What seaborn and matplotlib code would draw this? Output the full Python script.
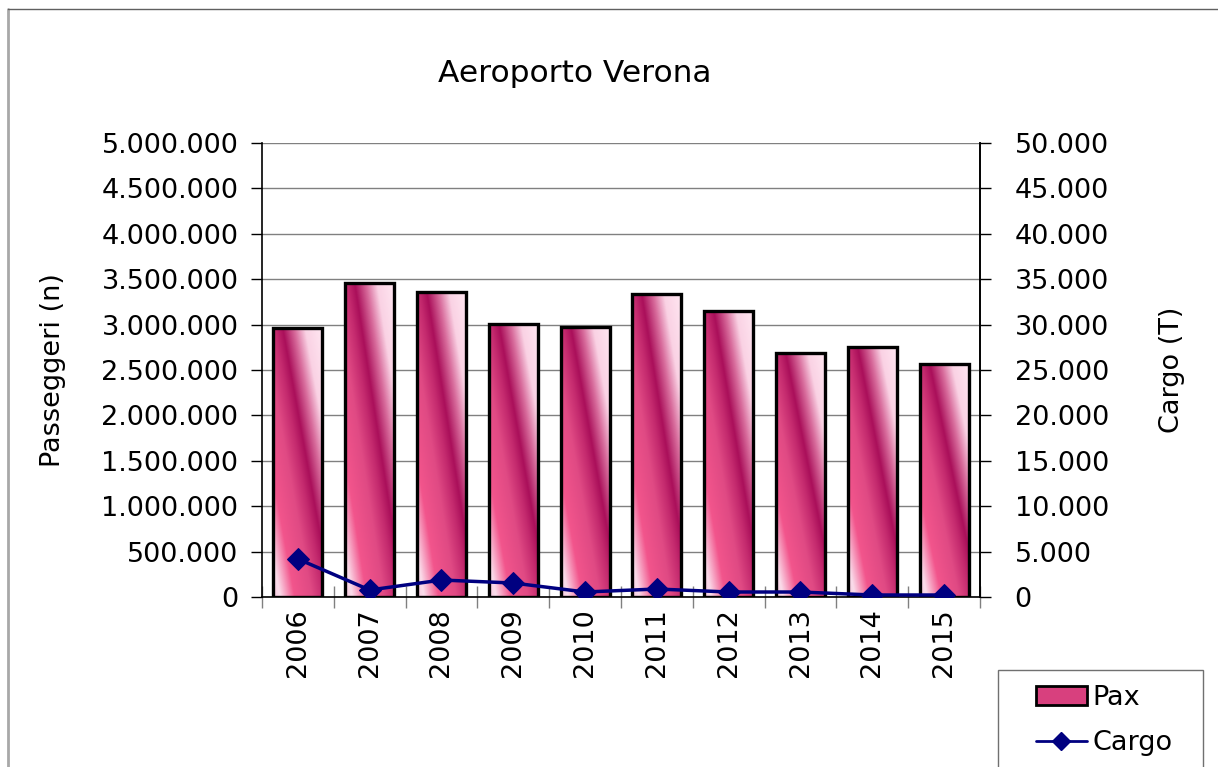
import matplotlib
matplotlib.use("Agg")
import matplotlib.pyplot as plt
import numpy as np
import pandas as pd
import seaborn as sns
from matplotlib.colors import LinearSegmentedColormap
from matplotlib.lines import Line2D
from matplotlib.patches import Patch, Rectangle
from matplotlib.ticker import FixedLocator, FuncFormatter

years = ["2006", "2007", "2008", "2009", "2010", "2011", "2012", "2013", "2014", "2015"]
pax = [2960000, 3458000, 3360000, 3007000, 2975000, 3337000, 3150000, 2687000, 2753000, 2566000]
cargo = [4190, 770, 1870, 1540, 550, 880, 550, 550, 220, 220]

FS = 19.5
NAVY = "#000080"


def ita(v, _pos=None):
    return f"{int(round(v)):,}".replace(",", ".")


# gradiente diagonale tipo Excel
bar_cmap = LinearSegmentedColormap.from_list("pax", [
    (0.00, "#F6C8DE"),
    (0.07, "#FADCEA"),
    (0.22, "#F2558C"),
    (0.40, "#E04A84"),
    (0.52, "#C42A6E"),
    (0.60, "#AA0F5A"),
    (0.72, "#D86C9C"),
    (0.83, "#FAD2E4"),
    (1.00, "#FFE6F1"),
])


def gradient_bars(ax):
    u, v = np.meshgrid(np.linspace(0, 1, 120), np.linspace(0, 1, 400))
    img = bar_cmap((u - v + 1) / 2)
    for p in ax.patches:
        x0, y0 = p.get_x(), p.get_y()
        w, h = p.get_width(), p.get_height()
        p.set_facecolor("none")
        p.set_zorder(3)
        im = ax.imshow(img, extent=(x0, x0 + w, y0, y0 + h), origin="upper",
                       aspect="auto", zorder=2.5, interpolation="bilinear")
        im.set_clip_path(p)


def main():
    sns.set_style("white")
    plt.rcParams["font.family"] = ["DejaVu Sans"]
    plt.rcParams["text.color"] = "black"
    plt.rcParams["axes.labelcolor"] = "black"
    plt.rcParams["xtick.labelcolor"] = "black"
    plt.rcParams["ytick.labelcolor"] = "black"

    df = pd.DataFrame({"Anno": years, "Pax": pax, "Cargo": cargo, "pos": np.arange(len(years))})

    fig = plt.figure(figsize=(12.18, 7.67), dpi=100)
    ax = fig.add_axes([262 / 1218, 1 - 597 / 767, 718 / 1218, 454 / 767])

    sns.barplot(data=df, x="Anno", y="Pax", ax=ax, width=0.68,
                edgecolor="black", linewidth=2.4)
    gradient_bars(ax)

    ax.set_xlim(-0.5, len(years) - 0.5)
    ax.set_ylim(0, 5000000)
    ax.set_yticks(np.arange(0, 5000001, 500000))
    ax.yaxis.set_major_formatter(FuncFormatter(ita))
    ax.set_axisbelow(True)
    ax.grid(axis="y", color="#808080", linewidth=1)
    ax.grid(axis="x", visible=False)

    ax.set_xticks(range(len(years)))
    ax.set_xticklabels(years, rotation=90)
    ax.xaxis.set_minor_locator(FixedLocator(np.arange(-0.5, len(years), 1)))
    ax.tick_params(axis="x", which="major", length=0, pad=8, labelsize=FS,
                   labelcolor="black")
    ax.tick_params(axis="x", which="minor", length=16, direction="inout",
                   color="#808080", width=1, bottom=True)
    ax.tick_params(axis="y", length=8, direction="out", width=1, color="black",
                   pad=9, labelsize=FS, left=True, labelcolor="black")

    for side in ["left", "right", "bottom"]:
        ax.spines[side].set_color("black")
        ax.spines[side].set_linewidth(1.2)
    ax.spines["top"].set_visible(False)

    ax.set_xlabel("")
    ax.set_ylabel("Passeggeri (n)", fontsize=FS, color="black")
    ax.yaxis.set_label_coords(-0.273, 0.5)

    ax2 = ax.twinx()
    sns.lineplot(data=df, x="pos", y="Cargo", ax=ax2, color=NAVY, linewidth=2.5,
                 marker="D", markersize=11, markeredgecolor=NAVY, zorder=5)
    ax2.set_ylim(0, 50000)
    ax2.set_yticks(np.arange(0, 50001, 5000))
    ax2.yaxis.set_major_formatter(FuncFormatter(ita))
    ax2.tick_params(axis="y", length=8, direction="out", width=1, color="black",
                    pad=17, labelsize=FS, right=True, labelcolor="black")
    ax2.set_xlim(-0.5, len(years) - 0.5)
    ax2.set_ylabel("Cargo (T)", fontsize=FS, color="black")
    ax2.yaxis.set_label_coords(1.25, 0.5)
    for side in ["left", "top", "bottom"]:
        ax2.spines[side].set_visible(False)
    ax2.spines["right"].set_color("black")
    ax2.spines["right"].set_linewidth(1.2)
    ax2.grid(False)

    fig.text(575 / 1218, 1 - 74 / 767, "Aeroporto Verona", fontsize=22.5,
             ha="center", va="center", color="black")

    # cornice esterna
    fig.add_artist(Line2D([8 / 1218, 8 / 1218], [0, 1 - 9 / 767],
                          transform=fig.transFigure, color="#A8A8A8", linewidth=2))
    fig.add_artist(Line2D([8 / 1218, 1], [1 - 9 / 767, 1 - 9 / 767],
                          transform=fig.transFigure, color="#606060", linewidth=1))

    # legenda
    fig.add_artist(Rectangle((998 / 1218, -0.01), 205 / 1218, 0.01 + (767 - 670) / 767,
                             transform=fig.transFigure, facecolor="white",
                             edgecolor="#707070", linewidth=1))
    handles = [
        Patch(facecolor="#D8407E", edgecolor="black", linewidth=2),
        Line2D([], [], color=NAVY, linewidth=2, marker="D", markersize=9),
    ]
    fig.legend(handles, ["Pax", "Cargo"], loc="upper left",
               bbox_to_anchor=(1022 / 1218, 1 - 671 / 767), frameon=False,
               fontsize=FS, handlelength=1.9, handletextpad=0.2,
               labelspacing=0.72, borderpad=0)

    fig.savefig("out.png", dpi=100)
    plt.close(fig)


if __name__ == "__main__":
    main()
